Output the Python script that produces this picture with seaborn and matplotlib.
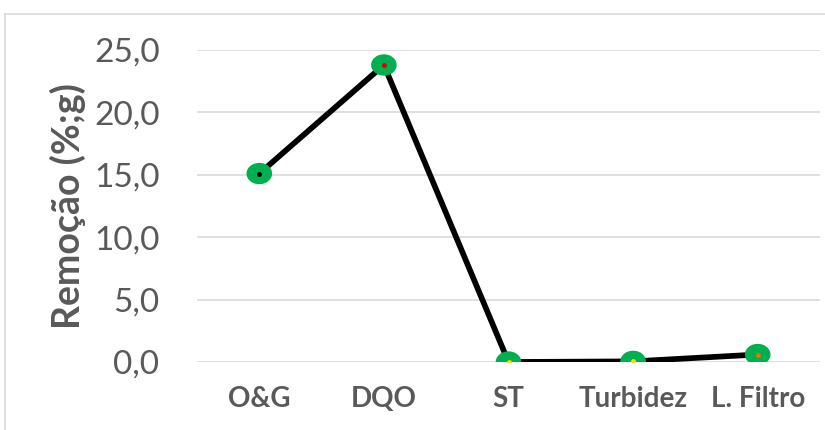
import matplotlib
matplotlib.use("Agg")
import matplotlib.pyplot as plt
from matplotlib.lines import Line2D
import numpy as np
import seaborn as sns
import pandas as pd

categorias = ["O&G", "DQO", "ST", "Turbidez", "L. Filtro"]
remocao = [15.1, 23.8, 0.0, 0.05, 0.6]
cores_centro = ["#000000", "#e00000", "#f0e000", "#f0e000", "#f07000"]
yticks = [0, 5, 10, 15, 20, 25]
ytick_labels = ["0,0", "5,0", "10,0", "15,0", "20,0", "25,0"]

df = pd.DataFrame({"categoria": categorias, "remocao": remocao})

sns.set_theme(style="white")
plt.rcParams["font.family"] = ["Lato", "DejaVu Sans"]

# slightly wide elliptical marker
t = np.linspace(0, 2 * np.pi, 60)
elipse = list(zip(1.2 * np.cos(t), np.sin(t)))

fig = plt.figure(figsize=(8.25, 4.3), dpi=100)
ax = fig.add_axes([197 / 825, 1 - 362 / 430, (820 - 197) / 825, (362 - 50) / 430])

sns.lineplot(data=df, x="categoria", y="remocao", ax=ax, color="black",
             linewidth=4.1, sort=False, zorder=3)
sns.scatterplot(data=df, x="categoria", y="remocao", ax=ax, color="#00b050",
                marker=elipse, s=340, edgecolor="none", zorder=4)
for i, (v, c) in enumerate(zip(remocao, cores_centro)):
    ax.plot(i, v, marker="o", markersize=3.5, color=c, markeredgecolor="none", zorder=5)

ax.set_xlim(-0.5, len(categorias) - 0.5)
ax.set_ylim(0, 25)
ax.set_yticks(yticks)
ax.set_yticklabels(ytick_labels)
ax.yaxis.grid(True, color="#d9d9d9", linewidth=1.2)
ax.set_axisbelow(True)
for s in ax.spines.values():
    s.set_visible(False)
ax.tick_params(axis="y", length=0, pad=27, labelsize=24, labelcolor="#595959")
ax.tick_params(axis="x", length=0, pad=17, labelsize=20, labelcolor="#595959")
for lbl in ax.get_xticklabels():
    lbl.set_fontweight("bold")
ax.set_xlabel("")
ax.set_ylabel("Remoção (%;g)", fontsize=27, fontweight="bold", color="#595959", labelpad=6)

# thin chart frame
fig.add_artist(Line2D([5 / 825, 5 / 825], [0, 1 - 14 / 430], color="#d9d9d9",
                      linewidth=1.2, transform=fig.transFigure))
fig.add_artist(Line2D([5 / 825, 1], [1 - 14 / 430, 1 - 14 / 430], color="#d9d9d9",
                      linewidth=1.2, transform=fig.transFigure))

fig.savefig("out.png", dpi=100)
